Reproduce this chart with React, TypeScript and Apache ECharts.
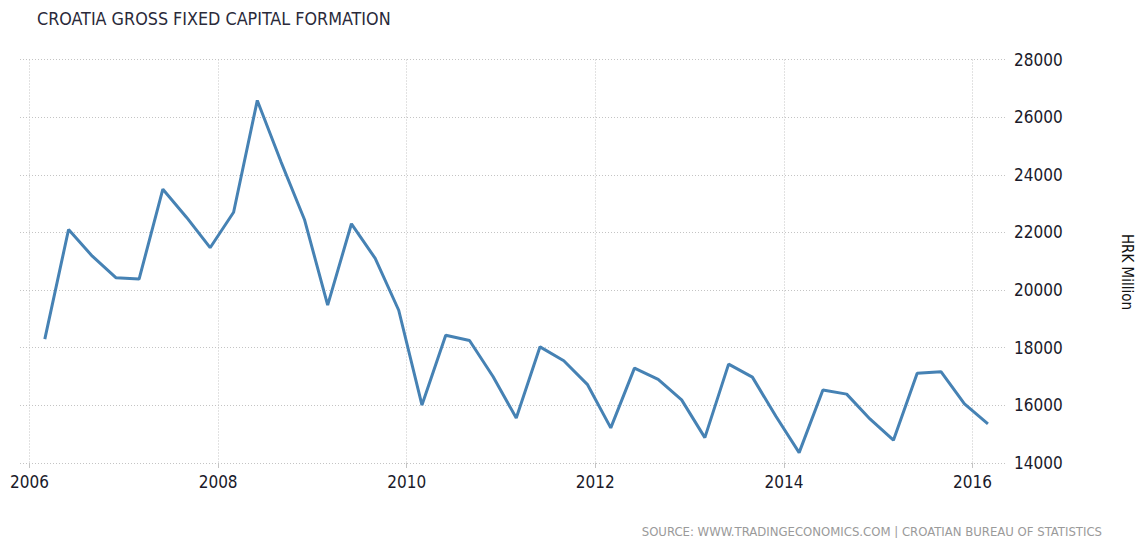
import React, { useEffect, useRef } from "react";
import * as echarts from "echarts";

const titleText = "CROATIA GROSS FIXED CAPITAL FORMATION";
const sourceText = "SOURCE: WWW.TRADINGECONOMICS.COM | CROATIAN BUREAU OF STATISTICS";
const unitText = "HRK Million";

const dates: string[] = [
  "2006-03-01", "2006-06-01", "2006-09-01", "2006-12-01",
  "2007-03-01", "2007-06-01", "2007-09-01", "2007-12-01",
  "2008-03-01", "2008-06-01", "2008-09-01", "2008-12-01",
  "2009-03-01", "2009-06-01", "2009-09-01", "2009-12-01",
  "2010-03-01", "2010-06-01", "2010-09-01", "2010-12-01",
  "2011-03-01", "2011-06-01", "2011-09-01", "2011-12-01",
  "2012-03-01", "2012-06-01", "2012-09-01", "2012-12-01",
  "2013-03-01", "2013-06-01", "2013-09-01", "2013-12-01",
  "2014-03-01", "2014-06-01", "2014-09-01", "2014-12-01",
  "2015-03-01", "2015-06-01", "2015-09-01", "2015-12-01",
  "2016-03-01",
];

const values: number[] = [
  18300, 22100, 21175, 20430,
  20380, 23500, 22520, 21470,
  22700, 26580, 24450, 22450,
  19480, 22300, 21100, 19300,
  16010, 18430, 18250, 17000,
  15560, 18030, 17550, 16730,
  15220, 17290, 16900, 16190,
  14880, 17430, 16980, 15620,
  14360, 16530, 16390, 15520,
  14790, 17110, 17170, 16050,
  15360,
];

const xTickYears: number[] = [2006, 2008, 2010, 2012, 2014, 2016];
const xStart = "2005-11-25";
const xEnd = "2016-05-14";
const yMin = 14000;
const yMax = 28000;
const yStep = 2000;

// convert an ISO date into a fractional year
const toYear = (s: string) => {
  const [y, m, d] = s.split("-").map(Number);
  const t = Date.UTC(y, m - 1, d);
  const a = Date.UTC(y, 0, 1);
  const b = Date.UTC(y + 1, 0, 1);
  return y + (t - a) / (b - a);
};

export default function App() {
  const ref = useRef<HTMLDivElement>(null);

  useEffect(() => {
    if (!ref.current) return;
    const chart = echarts.init(ref.current, undefined, { renderer: "svg" });
    const font = "'DejaVu Sans Condensed', 'DejaVu Sans', sans-serif";
    chart.setOption({
      animation: false,
      backgroundColor: "#ffffff",
      title: {
        text: titleText,
        left: 37,
        top: 9,
        padding: 0,
        textStyle: {
          fontFamily: font,
          fontSize: 17.8,
          fontWeight: "normal",
          color: "#2a2a3a",
        },
      },
      grid: {
        left: 20,
        right: 131,
        top: 59.5,
        bottom: 75,
        containLabel: false,
      },
      xAxis: {
        type: "value",
        min: toYear(xStart),
        max: toYear(xEnd),
        axisLine: { show: false },
        axisTick: {
          show: true,
          customValues: xTickYears,
          length: 5,
          lineStyle: { color: "#c4c4c4" },
        },
        axisLabel: {
          customValues: xTickYears,
          formatter: (v: number) => String(Math.round(v)),
          fontFamily: font,
          fontSize: 17,
          color: "#1a1a2a",
          margin: 10,
        },
        splitLine: {
          show: true,
          lineStyle: { color: "#c4c4c4", type: [1, 2], width: 1 },
        },
      },
      yAxis: {
        type: "value",
        position: "right",
        min: yMin,
        max: yMax,
        interval: yStep,
        axisLine: { show: false },
        axisTick: { show: false },
        axisLabel: {
          formatter: (v: number) => String(v),
          fontFamily: font,
          fontSize: 17,
          color: "#1a1a2a",
          margin: 7,
        },
        splitLine: {
          show: true,
          lineStyle: { color: "#c4c4c4", type: [1, 2], width: 1 },
        },
      },
      series: [
        {
          type: "line",
          data: dates.map((d, i) => [toYear(d), values[i]]),
          showSymbol: false,
          symbol: "none",
          lineStyle: { color: "#4682b4", width: 3 },
          itemStyle: { color: "#4682b4" },
        },
      ],
      graphic: [
        {
          type: "text",
          x: 1127,
          y: 272,
          rotation: -Math.PI / 2,
          style: {
            text: unitText,
            fontFamily: font,
            fontSize: 15,
            fill: "#111",
            align: "center",
            verticalAlign: "middle",
          },
        },
        {
          type: "text",
          x: 1102,
          y: 531,
          style: {
            text: sourceText,
            fontFamily: font,
            fontSize: 13,
            fill: "#9a9a9a",
            align: "right",
            verticalAlign: "middle",
          },
        },
      ],
    });
    return () => chart.dispose();
  }, []);

  return (
    <div
      ref={ref}
      style={{ position: "fixed", left: 0, top: 0, width: 1138, height: 538 }}
    />
  );
}
